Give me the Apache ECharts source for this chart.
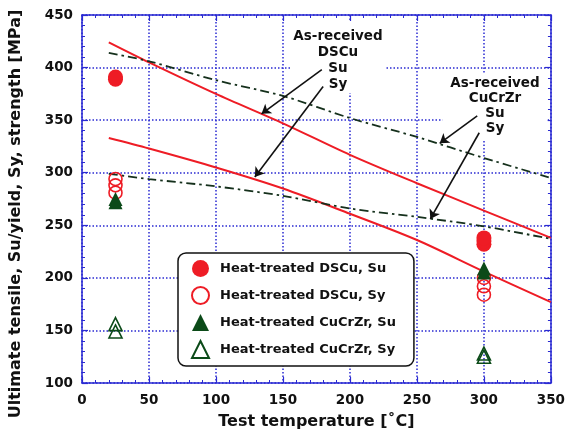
<!DOCTYPE html>
<html>
<head>
<meta charset="utf-8">
<script src="https://cdn.jsdelivr.net/npm/echarts@6/dist/echarts.min.js"></script>
<style>
html,body{margin:0;padding:0;background:#fff;}
#chart{width:568px;height:438px;}
</style>
</head>
<body>
<div id="chart"></div>
<script>
// ---- Data ----
const lineTemps      = [20, 50, 100, 150, 200, 250, 300, 350];
const arDscuSu       = [424, 405, 375, 347, 317, 290, 264, 238];
const arDscuSy       = [333, 323, 305, 285, 261, 236, 206, 177];
const arCuCrZrSu     = [414, 406, 388, 373, 352, 334, 314, 295];
const arCuCrZrSy     = [299, 294, 287, 278, 266, 258, 249, 237];

const htDscuSuT   = [25, 25, 300, 300, 300];
const htDscuSuV   = [389, 391, 232, 235, 238];
const htDscuSyT   = [25, 25, 25, 300, 300, 300];
const htDscuSyV   = [294, 288, 281, 200, 192, 184];
const htCuSuT     = [25, 25, 300, 300];
const htCuSuV     = [272, 275, 205, 209];
const htCuSyT     = [25, 25, 300, 300];
const htCuSyV     = [149, 156, 125, 128];

const legendNames = ['Heat-treated DSCu, Su', 'Heat-treated DSCu, Sy',
                     'Heat-treated CuCrZr, Su', 'Heat-treated CuCrZr, Sy'];
const xTitle = 'Test temperature [\u02DAC]';
const yTitle = 'Ultimate tensile, Su/yield, Sy, strength [MPa]';
const note1 = 'As-received\nDSCu\nSu\nSy';
const note2 = 'As-received\nCuCrZr\nSu\nSy';
const arrowFrom = [[179, 398], [180, 382], [295, 354], [296.5, 338]];
const arrowTo   = [[134, 356], [129, 296], [267, 328], [260, 256]];

// ---- helpers ----
const zip = (a, b) => a.map((v, i) => [v, b[i]]);
const BLUE = '#2a2ad2';
const RED = '#ee1c25';
const GREEN = '#0b4a18';
const DASHDOT = '#15301c';
const FONT = 'DejaVu Sans';

const axisCommon = {
  type: 'value',
  axisLine: {show: true, onZero: false, lineStyle: {color: BLUE, width: 1.5}},
  axisTick: {show: true, inside: true, length: 6, lineStyle: {color: BLUE, width: 1.2}},
  minorTick: {show: true, splitNumber: 5, length: 3, lineStyle: {color: BLUE, width: 1}},
};

const chart = echarts.init(document.getElementById('chart'), null, {renderer: 'canvas'});
const option = {
  animation: false,
  backgroundColor: '#fff',
  grid: {left: 81, right: 16, top: 15, bottom: 55, containLabel: false},
  xAxis: [
    Object.assign({}, axisCommon, {
      min: 0, max: 350, interval: 50, position: 'bottom',
      splitLine: {show: true, lineStyle: {color: BLUE, width: 1.5, type: [1.5, 2]}},
      axisLabel: {color: '#111', fontFamily: FONT, fontWeight: 'bold', fontSize: 13.5, margin: 10},
      name: xTitle, nameLocation: 'middle', nameGap: 31,
      nameTextStyle: {color: '#111', fontFamily: FONT, fontWeight: 'bold', fontSize: 16}
    }),
    Object.assign({}, axisCommon, {
      min: 0, max: 350, interval: 50, position: 'top',
      splitLine: {show: false}, axisLabel: {show: false}
    })
  ],
  yAxis: [
    Object.assign({}, axisCommon, {
      min: 100, max: 450, interval: 50, position: 'left',
      splitLine: {show: true, lineStyle: {color: BLUE, width: 1.5, type: [1.5, 2]}},
      axisLabel: {color: '#111', fontFamily: FONT, fontWeight: 'bold', fontSize: 13.5, margin: 9},
      name: yTitle, nameLocation: 'middle', nameGap: 58,
      nameTextStyle: {color: '#111', fontFamily: FONT, fontWeight: 'bold', fontSize: 16, padding: [0, 30, 0, 0]}
    }),
    Object.assign({}, axisCommon, {
      min: 100, max: 450, interval: 50, position: 'right',
      splitLine: {show: false}, axisLabel: {show: false}
    })
  ],
  legend: {
    data: legendNames,
    orient: 'vertical',
    left: 178, top: 253,
    backgroundColor: '#fff',
    borderColor: '#111', borderWidth: 1.5, borderRadius: 8,
    padding: [7, 18, 7, 13],
    itemGap: 9,
    itemWidth: 17, itemHeight: 17,
    textStyle: {color: '#111', fontFamily: FONT, fontWeight: 'bold', fontSize: 13, padding: [0, 0, 0, 6]}
  },
  graphic: [
    {type: 'text', z: 1, x: 338, y: 22,
     style: {text: note1, textAlign: 'center', textVerticalAlign: 'top',
             font: 'bold 13.5px "DejaVu Sans"', lineHeight: 16, fill: '#111',
             backgroundColor: '#fff', padding: [6, 3, 1, 3]}},
    {type: 'text', z: 1, x: 495, y: 73,
     style: {text: note2, textAlign: 'center', textVerticalAlign: 'top',
             font: 'bold 13.5px "DejaVu Sans"', lineHeight: 15, fill: '#111',
             backgroundColor: '#fff', padding: [3, 8, 3, 8]}}
  ],
  series: [
    {type: 'line', name: 'As-received DSCu Su', data: zip(lineTemps, arDscuSu), showSymbol: false,
     smooth: 0.3, lineStyle: {color: RED, width: 2}, z: 3},
    {type: 'line', name: 'As-received DSCu Sy', data: zip(lineTemps, arDscuSy), showSymbol: false,
     smooth: 0.3, lineStyle: {color: RED, width: 2}, z: 3},
    {type: 'line', name: 'As-received CuCrZr Su', data: zip(lineTemps, arCuCrZrSu), showSymbol: false,
     smooth: 0.3, lineStyle: {color: DASHDOT, width: 1.8, type: [9, 4, 2.5, 4]}, z: 3},
    {type: 'line', name: 'As-received CuCrZr Sy', data: zip(lineTemps, arCuCrZrSy), showSymbol: false,
     smooth: 0.3, lineStyle: {color: DASHDOT, width: 1.8, type: [9, 4, 2.5, 4]}, z: 3},
    {type: 'line', name: 'arrows', data: [], z: 3,
     markLine: {silent: true, animation: false, symbol: ['none', 'arrow'], symbolSize: 9,
       label: {show: false},
       lineStyle: {color: '#111', width: 1.6, type: 'solid'},
       emphasis: {disabled: true},
       data: arrowFrom.map((f, i) => [{coord: f}, {coord: arrowTo[i]}])}},
    {type: 'scatter', name: legendNames[0], data: zip(htDscuSuT, htDscuSuV), symbol: 'circle', symbolSize: 15,
     itemStyle: {color: RED, opacity: 1}, z: 4},
    {type: 'scatter', name: legendNames[1], data: zip(htDscuSyT, htDscuSyV), symbol: 'circle', symbolSize: 13,
     itemStyle: {color: 'rgba(255,255,255,0)', borderColor: RED, borderWidth: 1.6, opacity: 1}, z: 4},
    {type: 'scatter', name: legendNames[2], data: zip(htCuSuT, htCuSuV), symbol: 'triangle', symbolSize: 14,
     itemStyle: {color: GREEN, opacity: 1}, z: 5},
    {type: 'scatter', name: legendNames[3], data: zip(htCuSyT, htCuSyV), symbol: 'triangle', symbolSize: 13,
     itemStyle: {color: 'rgba(255,255,255,0)', borderColor: GREEN, borderWidth: 1.6, opacity: 1}, z: 5}
  ]
};
chart.setOption(option);
</script>
</body>
</html>
